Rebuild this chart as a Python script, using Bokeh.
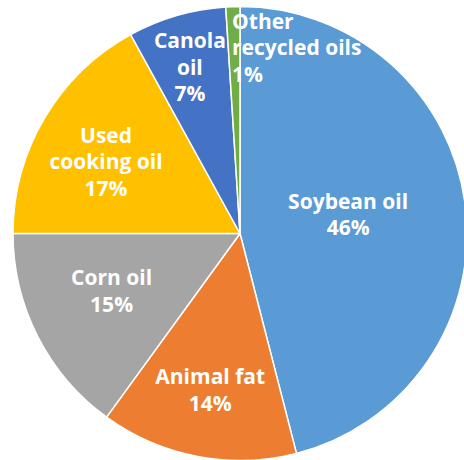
import numpy as np
from bokeh.plotting import figure
from bokeh.models import ColumnDataSource, Range1d
from bokeh.core.properties import value
from bokeh.embed import file_html
from bokeh.resources import INLINE

# ---- data ----
categories = ["Soybean oil", "Animal fat", "Corn oil", "Used cooking oil", "Canola oil", "Other recycled oils"]
shares = [46, 14, 15, 17, 7, 1]
label_lines = [["Soybean oil"], ["Animal fat"], ["Corn oil"], ["Used", "cooking oil"], ["Canola", "oil"], ["Other", "recycled oils"]]
colors = ["#5B9BD5", "#ED7D31", "#A5A5A5", "#FFC000", "#4472C4", "#70AD47"]

# ---- styling / layout ----
label_radius = [0.48, 0.70, 0.63, 0.66, 0.76, 0.83]
label_nudge_x = [0, 0, -1, -5, -2, -2]    # screen px, right positive
label_nudge_y = [-6, 0, -8, 4, -1, 2]     # screen px, down positive
W, H = 464, 460
cx, cy, r = 239.5, H - 233.0, 227.0

vals = np.array(shares, dtype=float)
frac = vals / vals.sum()
cum_end = np.cumsum(frac)
cum_start = cum_end - frac
start_angle = np.pi / 2 - 2 * np.pi * cum_start
end_angle = np.pi / 2 - 2 * np.pi * cum_end
mid = 2 * np.pi * (cum_start + cum_end) / 2  # clockwise from top

texts = ["\n".join(l + [f"{s}%"]) for l, s in zip(label_lines, shares)]
lx = [cx + f * r * np.sin(m) + nx for f, m, nx in zip(label_radius, mid, label_nudge_x)]
ly = [cy + f * r * np.cos(m) - ny for f, m, ny in zip(label_radius, mid, label_nudge_y)]

src = ColumnDataSource(dict(cat=categories, start=start_angle, end=end_angle, color=colors))

p = figure(width=W, height=H, x_range=Range1d(0, W), y_range=Range1d(0, H),
           toolbar_location=None, output_backend="svg", min_border=0,
           x_axis_location=None, y_axis_location=None)
p.grid.visible = False
p.outline_line_color = None
p.background_fill_color = "white"

p.wedge(x=cx, y=cy, radius=r, start_angle="start", end_angle="end", direction="clock",
        fill_color="color", line_color="white", line_width=1.5, source=src)

n = len(categories)
center_idx = list(range(n - 1))
src_c = ColumnDataSource(dict(x=[lx[i] for i in center_idx], y=[ly[i] for i in center_idx],
                              t=[texts[i] for i in center_idx]))
common = dict(text_baseline="middle", text_font=value("Open Sans"), text_font_style="bold",
              text_font_size="21px", text_color="white", text_line_height=0.95)
p.text(x="x", y="y", text="t", source=src_c, text_align="center", **common)

src_o = ColumnDataSource(dict(x=[lx[n - 1]], y=[ly[n - 1]], t=[texts[n - 1]]))
p.text(x="x", y="y", text="t", source=src_o, text_align="left", **common)

open("out.html", "w").write(file_html(p, INLINE))
